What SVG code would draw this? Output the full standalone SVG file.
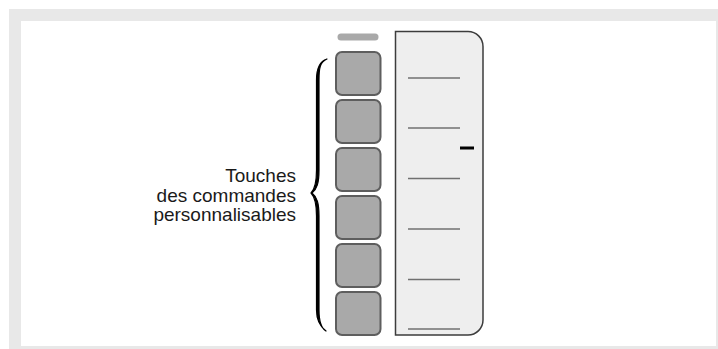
<svg xmlns="http://www.w3.org/2000/svg" width="718" height="349" viewBox="0 0 718 349">
<style>
.btn{fill:#a9a9a9;stroke:#5e5e5e;stroke-width:2}
.ln{stroke:#707070;stroke-width:1.3}
.lbl{font-family:"Liberation Sans",Arial,sans-serif;font-size:19px;fill:#1a1a1a;text-anchor:end}
</style>
<rect x="0" y="0" width="718" height="349" fill="#ffffff"/>
<rect x="9" y="9" width="709" height="340" fill="#e8e8e8"/>
<rect x="21" y="21" width="695" height="325" fill="#ffffff"/>
<g id="panel">
<path d="M395.5,31.5 H468 A15,15 0 0 1 483,46.5 V320 A15,15 0 0 1 468,335 H395.5 Z" fill="#eeeeee" stroke="#3c3c3c" stroke-width="1.5"/>
<line class="ln" x1="408" y1="78" x2="460" y2="78" stroke="#9a9a9a"/>
<line class="ln" x1="408" y1="128" x2="460" y2="128"/>
<line class="ln" x1="408" y1="178.5" x2="460" y2="178.5"/>
<line class="ln" x1="408" y1="229" x2="460" y2="229"/>
<line class="ln" x1="408" y1="279.5" x2="460" y2="279.5"/>
<line class="ln" x1="408" y1="329" x2="460" y2="329"/>
<line x1="460" y1="148" x2="474" y2="148" stroke="#000" stroke-width="3"/>
</g>
<g id="indicator">
<line x1="341" y1="37" x2="375" y2="37" stroke="#a9a9a9" stroke-width="7" stroke-linecap="round"/>
</g>
<g id="buttons">
<rect id="btn1" class="btn" x="336" y="52" width="44.5" height="43" rx="6"/>
<rect id="btn2" class="btn" x="336" y="100" width="44.5" height="43" rx="6"/>
<rect id="btn3" class="btn" x="336" y="148" width="44.5" height="43" rx="6"/>
<rect id="btn4" class="btn" x="336" y="196" width="44.5" height="43" rx="6"/>
<rect id="btn5" class="btn" x="336" y="244" width="44.5" height="43" rx="6"/>
<rect id="btn6" class="btn" x="336" y="292" width="44.5" height="43" rx="6"/>
</g>
<g id="brace">
<path d="M327,59 C320,62 319,68 319,80 L319,170 C319,183 317,189 312,193 C317,197 319,203 319,216 L319,310 C319,322 321,328 326,331 C322,328 316.5,322 316.5,310 L316.5,216 C316.5,204 315,197 311,193 C315,189 316.5,182 316.5,170 L316.5,80 C316.5,68 320,61 327,59 Z" fill="#000" stroke="#000" stroke-width="1.2" stroke-linejoin="round"/>
</g>
<g id="label">
<text class="lbl" x="296" y="181.5">Touches</text>
<text class="lbl" x="296" y="201.5">des commandes</text>
<text class="lbl" x="296" y="221">personnalisables</text>
</g>
</svg>
